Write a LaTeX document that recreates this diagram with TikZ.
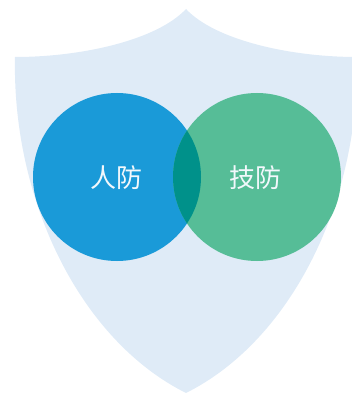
\documentclass[tikz,border=0pt]{standalone}
\usepackage{fontspec}
\newfontfamily\cjk{Noto Sans CJK SC}
\definecolor{shieldc}{HTML}{DFEBF7}
\definecolor{bluec}{HTML}{1A9AD8}
\definecolor{greenc}{HTML}{56BD97}
\definecolor{overc}{HTML}{00918A}
\definecolor{txtc}{HTML}{F2F8FC}
\tikzset{lbl/.style={font=\cjk\fontsize{26}{30}\selectfont, text=txtc}}
\begin{document}
\begin{tikzpicture}[x=1pt,y=-1pt]
\useasboundingbox (0,0) rectangle (352,393);
\fill[shieldc] (186,9) .. controls (215,40) and (290,57) .. (357,57)
  .. controls (360,200) and (292,340) .. (186,393)
  .. controls (80,340) and (12,200) .. (15,57)
  .. controls (82,57) and (157,40) .. (186,9) -- cycle;
\fill[bluec] (117,177) circle[radius=84];
\fill[greenc] (257,177) circle[radius=84];
\begin{scope}
\clip (117,177) circle[radius=84];
\fill[overc] (257,177) circle[radius=84];
\end{scope}
\node[lbl] (a) at (116,178) {人防};
\node[lbl] (b) at (255,178) {技防};
\end{tikzpicture}
\end{document}
